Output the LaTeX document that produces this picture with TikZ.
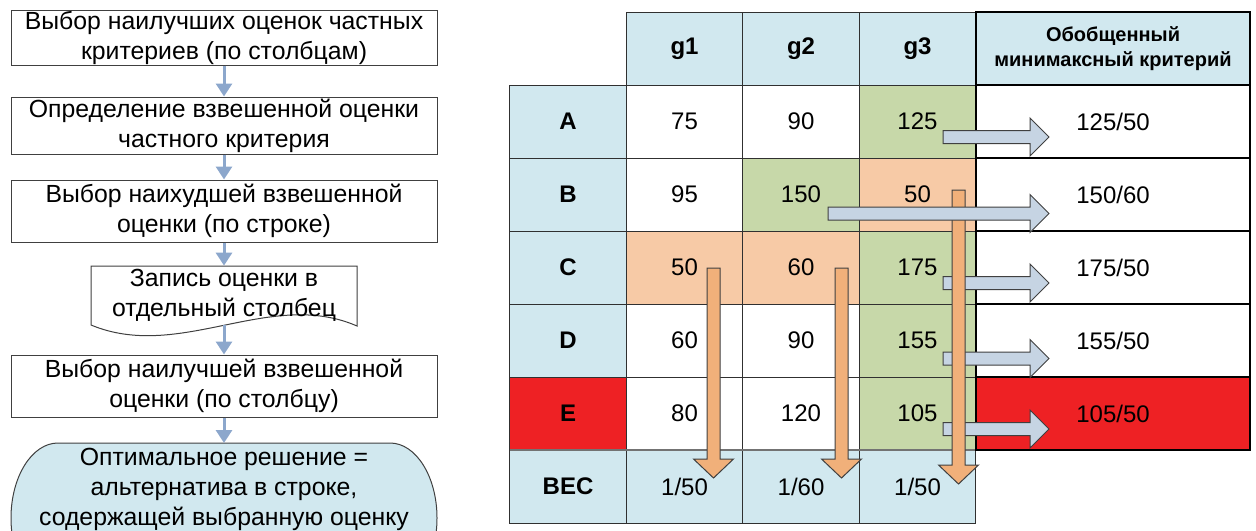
\documentclass[tikz,border=0pt]{standalone}
\usepackage{fontspec}
\setmainfont{Liberation Sans}
\usetikzlibrary{arrows.meta}

\definecolor{hdrblue}{HTML}{D1E8EF}
\definecolor{cellgreen}{HTML}{C7D8A9}
\definecolor{cellorange}{HTML}{F7CAA6}
\definecolor{cellred}{HTML}{EE2124}
\definecolor{arroworange}{HTML}{F1B07A}
\definecolor{arrowblue}{HTML}{C6D4E3}
\definecolor{flowblue}{HTML}{8CA7CC}
\definecolor{gridline}{HTML}{303030}

% block arrow pointing right: start x, centre y
\newcommand\blockright[2]{%
  \draw[hblk] (#1,#2-6.5) -- (1030,#2-6.5) -- (1030,#2-19) -- (1049,#2)
    -- (1030,#2+19) -- (1030,#2+6.5) -- (#1,#2+6.5) -- cycle;}
% block arrow pointing down: centre x, top y, head base y, tip y
\newcommand\blockdown[4]{%
  \draw[vblk] (#1-6.5,#2) -- (#1+6.5,#2) -- (#1+6.5,#3) -- (#1+20,#3)
    -- (#1,#4) -- (#1-20,#3) -- (#1-6.5,#3) -- cycle;}

\begin{document}
\begin{tikzpicture}[x=0.5pt,y=-0.5pt,
  flowfont/.style={font=\fontsize{12.4}{15}\selectfont},
  flowbox/.style={flowfont, draw=black!75, line width=0.5pt, fill=white,
    minimum width=213pt, inner sep=0pt, align=center},
  flowtxt/.style={flowfont, inner sep=0pt, align=center},
  flowarrow/.style={-{Triangle[width=8pt,length=6.5pt]}, draw=flowblue, line width=1.5pt},
  cell/.style={draw=gridline, line width=0.5pt, minimum width=58.25pt,
    minimum height=36.5pt, inner sep=0pt, outer sep=0pt,
    font=\fontsize{12}{14}\selectfont},
  headcell/.style={cell, fill=hdrblue, font=\bfseries\fontsize{12}{14}\selectfont},
  critcell/.style={draw=black, line width=1.2pt, minimum width=137pt,
    minimum height=36.5pt, inner sep=0pt, outer sep=0pt, align=center,
    font=\fontsize{12}{14}\selectfont},
  hblk/.style={fill=arrowblue, draw=black!75, line width=0.5pt},
  vblk/.style={fill=arroworange, draw=black!75, line width=0.5pt}]

\useasboundingbox (0,0) rectangle (1256,530);
\clip (0,0) rectangle (1256,530);

% ---------- flowchart ----------
\node[flowbox, minimum height=27.5pt] (b1) at (224,37.5)
  {Выбор наилучших оценок частных\\критериев (по столбцам)};
\node[flowbox, minimum height=28.5pt] (b2) at (224,125.5)
  {Определение взвешенной оценки\\частного критерия};
\node[flowbox, minimum height=31pt] (b3) at (224,211)
  {Выбор наихудшей взвешенной\\оценки (по строке)};

% document shape with wavy bottom edge
\draw[draw=black!75, line width=0.5pt, fill=white]
  (91,266) -- (357,266) -- (357,326)
  .. controls (270,288) and (180,362) .. (91,325) -- cycle;
\node[flowtxt, minimum width=133pt, minimum height=29.5pt] (b4) at (224,295.5)
  {Запись оценки в\\отдельный столбец};

\node[flowbox, minimum height=31pt] (b5) at (224,386)
  {Выбор наилучшей взвешенной\\оценки (по столбцу)};

% terminator with elliptic ends
\draw[draw=black!75, line width=0.5pt, fill=hdrblue]
  (58,443) -- (390,443) arc[start angle=-90, end angle=90, x radius=47, y radius=75]
  -- (58,593) arc[start angle=90, end angle=270, x radius=47, y radius=75] -- cycle;
\coordinate (b6top) at (224,443);
\node[flowtxt] (b6) at (224,489)
  {Оптимальное решение =\\альтернатива в строке,\\содержащей выбранную оценку};

\draw[flowarrow] (b1.south) -- (b2.north);
\draw[flowarrow] (b2.south) -- (b3.north);
\draw[flowarrow] (b3.south) -- (b4.north);
\draw[flowarrow] (b4.south) -- (b5.north);
\draw[flowarrow] (b5.south) -- (b6top);

% ---------- table ----------
\node[headcell] (hg1) at (684.5,48.5) {g1};
\node[headcell] (hg2) at (801,48.5) {g2};
\node[headcell] (hg3) at (917.5,48.5) {g3};

\node[headcell] (rA) at (568,121.5) {A};
\node[headcell] (rB) at (568,194.5) {B};
\node[headcell] (rC) at (568,267.5) {C};
\node[headcell] (rD) at (568,340.5) {D};
\node[headcell, fill=cellred] (rE) at (568,413.5) {E};
\node[headcell] (rW) at (568,486.5) {ВЕС};

\node[cell] (A1) at (684.5,121.5) {75};
\node[cell] (A2) at (801,121.5) {90};
\node[cell, fill=cellgreen] (A3) at (917.5,121.5) {125};

\node[cell] (B1) at (684.5,194.5) {95};
\node[cell, fill=cellgreen] (B2) at (801,194.5) {150};
\node[cell, fill=cellorange] (B3) at (917.5,194.5) {50};

\node[cell, fill=cellorange] (C1) at (684.5,267.5) {50};
\node[cell, fill=cellorange] (C2) at (801,267.5) {60};
\node[cell, fill=cellgreen] (C3) at (917.5,267.5) {175};

\node[cell] (D1) at (684.5,340.5) {60};
\node[cell] (D2) at (801,340.5) {90};
\node[cell, fill=cellgreen] (D3) at (917.5,340.5) {155};

\node[cell] (E1) at (684.5,413.5) {80};
\node[cell] (E2) at (801,413.5) {120};
\node[cell, fill=cellgreen] (E3) at (917.5,413.5) {105};

\node[cell, fill=hdrblue] (W1) at (684.5,486.5) {1/50};
\node[cell, fill=hdrblue] (W2) at (801,486.5) {1/60};
\node[cell, fill=hdrblue] (W3) at (917.5,486.5) {1/50};

% separator above the weight row
\draw[draw=black!55, line width=1pt] (rW.north west) -- (W3.north east);

% generalised criterion column
\node[critcell, fill=hdrblue, font=\bfseries\fontsize{10}{12.5}\selectfont] (kH) at (1113,48.5)
  {Обобщенный\\минимаксный критерий};
\node[critcell, fill=white] (kA) at (1113,121.5) {125/50};
\node[critcell, fill=white] (kB) at (1113,194.5) {150/60};
\node[critcell, fill=white] (kC) at (1113,267.5) {175/50};
\node[critcell, fill=white] (kD) at (1113,340.5) {155/50};
\node[critcell, fill=cellred] (kE) at (1113,413.5) {105/50};

% ---------- block arrows ----------
\blockright{943}{137}
\blockright{943}{283}
\blockright{943}{358.5}
\blockright{943}{429}

\blockdown{713.5}{268}{459}{478}
\blockdown{841.5}{268}{459}{478}
\blockdown{958.5}{190}{465}{484}

\blockright{828}{213.5}

\end{tikzpicture}
\end{document}
